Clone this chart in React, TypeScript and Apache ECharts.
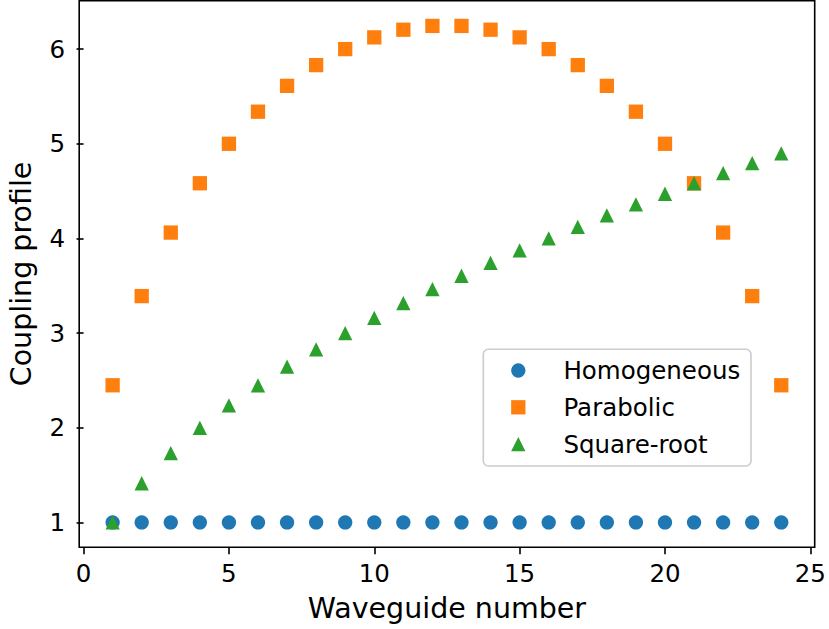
import React, { useEffect, useRef } from "react";
import * as echarts from "echarts";

// Waveguide index along the array
const waveguides: number[] = [
  1, 2, 3, 4, 5, 6, 7, 8, 9, 10, 11, 12,
  13, 14, 15, 16, 17, 18, 19, 20, 21, 22, 23, 24,
];

// Coupling profiles per waveguide
const homogeneous: number[] = [
  1, 1, 1, 1, 1, 1, 1, 1, 1, 1, 1, 1,
  1, 1, 1, 1, 1, 1, 1, 1, 1, 1, 1, 1,
];
const parabolic: number[] = [
  2.449, 3.391, 4.062, 4.583, 5.0, 5.339, 5.612, 5.831, 6.0, 6.124, 6.205, 6.245,
  6.245, 6.205, 6.124, 6.0, 5.831, 5.612, 5.339, 5.0, 4.583, 4.062, 3.391, 2.449,
];
const squareRoot: number[] = [
  1.0, 1.414, 1.732, 2.0, 2.236, 2.449, 2.646, 2.828, 3.0, 3.162, 3.317, 3.464,
  3.606, 3.742, 3.873, 4.0, 4.123, 4.243, 4.359, 4.472, 4.583, 4.69, 4.796, 4.899,
];

const xTicks: number[] = [0, 5, 10, 15, 20, 25];
const yTicks: number[] = [1, 2, 3, 4, 5, 6];

const seriesNames: string[] = ["Homogeneous", "Parabolic", "Square-root"];
const seriesColors: string[] = ["#1f77b4", "#ff7f0e", "#2ca02c"];
const seriesSymbols: string[] = ["circle", "rect", "triangle"];

const FONT = "DejaVu Sans";
const MARKER = 14.3;

export default function App() {
  const ref = useRef<HTMLDivElement>(null);

  useEffect(() => {
    if (!ref.current) return;
    const chart = echarts.init(ref.current, undefined, { renderer: "svg" });

    const pairs = (ys: number[]) => waveguides.map((x, i) => [x, ys[i]]);
    const values = [homogeneous, parabolic, squareRoot];

    const axisCommon = {
      type: "value" as const,
      splitLine: { show: false },
      axisLine: { show: false },
      axisTick: {
        show: true,
        inside: false,
        length: 7,
        lineStyle: { color: "#000", width: 1.6 },
      },
    };

    chart.setOption({
      animation: false,
      backgroundColor: "#fff",
      textStyle: { fontFamily: FONT },
      grid: {
        left: 79.2,
        right: 14.3,
        top: 0.6,
        bottom: 81.7,
        outerBoundsMode: "none",
        containLabel: false,
        show: true,
        borderColor: "#000",
        borderWidth: 1.6,
        backgroundColor: "transparent",
      },
      xAxis: {
        ...axisCommon,
        min: -0.15,
        max: 25.15,
        axisTick: { ...axisCommon.axisTick, customValues: xTicks },
        axisLabel: {
          customValues: xTicks,
          margin: 14,
          color: "#000",
          fontSize: 24.5,
          fontFamily: FONT,
        },
        name: "Waveguide number",
        nameLocation: "middle",
        nameGap: 47,
        nameTextStyle: { color: "#000", fontSize: 28.5, fontFamily: FONT },
      },
      yAxis: {
        ...axisCommon,
        min: 0.7375,
        max: 6.5125,
        axisTick: { ...axisCommon.axisTick, customValues: yTicks },
        axisLabel: {
          customValues: yTicks,
          margin: 14,
          color: "#000",
          fontSize: 24.5,
          fontFamily: FONT,
        },
        name: "Coupling profile",
        nameLocation: "middle",
        nameGap: 43,
        nameTextStyle: { color: "#000", fontSize: 28.5, fontFamily: FONT },
      },
      legend: {
        orient: "vertical",
        left: 518.3 - MARKER / 2,
        top: 358,
        padding: 0,
        itemWidth: MARKER,
        itemHeight: MARKER,
        itemGap: 11.8,
        data: seriesNames,
        textStyle: {
          color: "#000",
          fontSize: 24.5,
          fontFamily: FONT,
          lineHeight: 24,
          padding: [0, 0, 0, 33],
        },
        z: 5,
      },
      graphic: [
        {
          type: "rect",
          z: 4,
          shape: { x: 483.3, y: 349.3, width: 267.7, height: 116.7, r: 5 },
          style: { fill: "rgba(255,255,255,0.8)", stroke: "#cccccc", lineWidth: 1.6 },
        },
      ],
      series: seriesNames.map((name, k) => ({
        name,
        type: "scatter",
        symbol: seriesSymbols[k],
        symbolSize: MARKER,
        itemStyle: { color: seriesColors[k], opacity: 1 },
        data: pairs(values[k]),
      })),
    });

    return () => chart.dispose();
  }, []);

  return (
    <div
      ref={ref}
      style={{ position: "fixed", left: 0, top: 0, width: 829, height: 629 }}
    />
  );
}
